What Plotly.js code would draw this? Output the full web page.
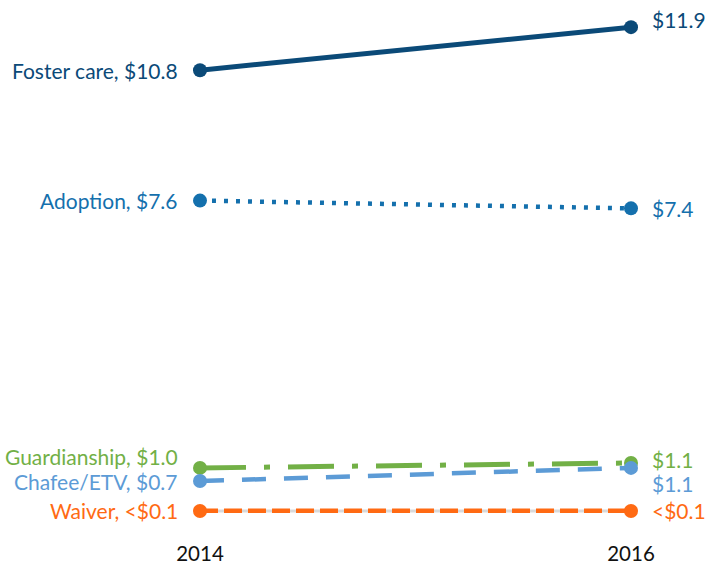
<!DOCTYPE html>
<html>
<head>
<meta charset="utf-8">
<script src="https://cdn.plot.ly/plotly-3.0.1.min.js"></script>
<style>html,body{margin:0;padding:0;background:#fff;}#chart{width:707px;height:567px;}</style>
</head>
<body>
<div id="chart"></div>
<script>
const years = [2014, 2016];
const seriesNames = ["Foster care", "Adoption", "Guardianship", "Chafee/ETV", "Waiver"];
const fosterCare = [10.8, 11.85];
const adoption = [7.62, 7.43];
const guardianship = [1.1, 1.22];
const chafee = [0.78, 1.1];
const waiver = [0.05, 0.05];
const leftLabels = ["Foster care, $10.8", "Adoption, $7.6", "Guardianship, $1.0", "Chafee/ETV, $0.7", "Waiver, <$0.1"];
const rightLabels = ["$11.9", "$7.4", "$1.1", "$1.1", "<$0.1"];
const tickLabels = ["2014", "2016"];

const colors = ["#0b4a78", "#1470ad", "#72b046", "#5c9bd6", "#ff6a13"];
const dashes = ["solid", "4px,8px", "46px,18px,6px,18px", "24px,18px", "18px,6px"];
const widths = [5, 4.5, 5, 4.5, 5];
const values = [fosterCare, adoption, guardianship, chafee, waiver];
const leftShift = [0, 0, 11, 0, 0];
const rightShift = [8, 0, 3, -16, 0];

const traces = [];
traces.push({x: years, y: waiver, mode: "lines", line: {color: "#d9d9d9", width: 3}, hoverinfo: "skip", showlegend: false, cliponaxis: false});
for (let i = 0; i < values.length; i++) {
  traces.push({
    x: years, y: values[i], name: seriesNames[i], mode: "lines+markers",
    line: {color: colors[i], width: widths[i], dash: dashes[i]},
    marker: {color: colors[i], size: 14},
    cliponaxis: false, showlegend: false
  });
}
const font = "Lato, 'Open Sans', sans-serif";
const annotations = [];
for (let i = 0; i < values.length; i++) {
  annotations.push({x: years[0], y: values[i][0], xref: "x", yref: "y", text: leftLabels[i], showarrow: false,
    xanchor: "right", yanchor: "middle", xshift: -20, yshift: leftShift[i],
    font: {family: font, size: 21, color: colors[i]}});
  annotations.push({x: years[1], y: values[i][1], xref: "x", yref: "y", text: rightLabels[i], showarrow: false,
    xanchor: "left", yanchor: "middle", xshift: 19, yshift: rightShift[i],
    font: {family: font, size: 21, color: colors[i]}});
}
const layout = {
  width: 707, height: 567,
  margin: {l: 200, r: 76, t: 21, b: 54},
  paper_bgcolor: "#fff", plot_bgcolor: "#fff",
  xaxis: {range: [2014, 2016], tickvals: years, ticktext: tickLabels, showgrid: false, zeroline: false, showline: false,
    ticks: "outside", ticklen: 22, tickcolor: "rgba(0,0,0,0)", tickfont: {family: font, size: 20.5, color: "#111"}},
  yaxis: {range: [0, 12], visible: false, showgrid: false, zeroline: false},
  annotations: annotations,
  showlegend: false
};
Plotly.newPlot("chart", traces, layout, {displayModeBar: false, staticPlot: true});
</script>
</body>
</html>
